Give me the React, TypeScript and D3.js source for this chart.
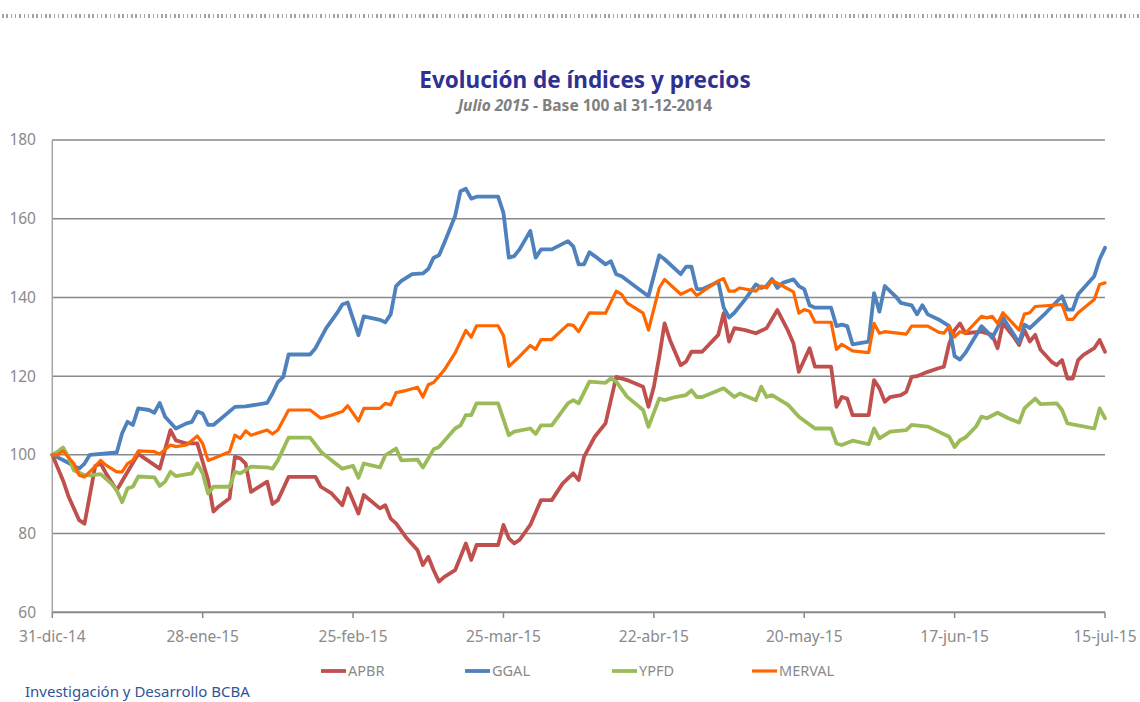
import React from "react";
import * as d3 from "d3";

type Pt = [string, number];

const seriesNames = ["APBR", "GGAL", "YPFD", "MERVAL"];
const seriesColors = ["#C0504D", "#4F81BD", "#9BBB59", "#FF6600"];

const APBR: Pt[] = [["2014-12-31",100],["2015-01-02",93.5],["2015-01-03",89.5],["2015-01-05",83.4],["2015-01-06",82.5],["2015-01-08",97.2],["2015-01-09",97.8],["2015-01-10",95.3],["2015-01-12",91.0],["2015-01-16",100.3],["2015-01-17",99.3],["2015-01-20",96.5],["2015-01-22",106.3],["2015-01-23",103.7],["2015-01-25",102.9],["2015-01-27",102.9],["2015-01-29",93.6],["2015-01-30",85.6],["2015-01-31",86.9],["2015-02-02",89.0],["2015-02-03",99.5],["2015-02-04",99.1],["2015-02-05",97.8],["2015-02-06",90.6],["2015-02-09",93.2],["2015-02-10",87.5],["2015-02-11",88.5],["2015-02-13",94.4],["2015-02-18",94.4],["2015-02-19",91.9],["2015-02-21",90.2],["2015-02-23",87.2],["2015-02-24",91.5],["2015-02-26",85.1],["2015-02-27",89.8],["2015-03-02",86.4],["2015-03-03",87.2],["2015-03-04",83.8],["2015-03-05",82.6],["2015-03-07",78.8],["2015-03-09",75.8],["2015-03-10",72.0],["2015-03-11",74.1],["2015-03-12",70.7],["2015-03-13",67.8],["2015-03-14",69.0],["2015-03-16",70.7],["2015-03-18",77.5],["2015-03-19",73.3],["2015-03-20",77.1],["2015-03-24",77.1],["2015-03-25",82.2],["2015-03-26",78.8],["2015-03-27",77.5],["2015-03-28",78.4],["2015-03-30",82.2],["2015-04-01",88.5],["2015-04-03",88.5],["2015-04-05",92.7],["2015-04-07",95.3],["2015-04-08",93.6],["2015-04-09",99.5],["2015-04-11",104.6],["2015-04-13",108.0],["2015-04-14",113.9],["2015-04-15",119.8],["2015-04-17",119.0],["2015-04-20",117.3],["2015-04-21",112.2],["2015-04-22",117.3],["2015-04-23",124.9],["2015-04-24",133.4],["2015-04-25",129.2],["2015-04-27",122.8],["2015-04-28",123.7],["2015-04-29",126.2],["2015-05-01",126.2],["2015-05-04",130.5],["2015-05-05",136.0],["2015-05-06",128.8],["2015-05-07",132.2],["2015-05-09",131.7],["2015-05-11",130.9],["2015-05-13",132.2],["2015-05-15",136.8],["2015-05-17",131.5],["2015-05-18",128.3],["2015-05-19",121.1],["2015-05-21",127.1],["2015-05-22",122.4],["2015-05-25",122.4],["2015-05-26",112.2],["2015-05-27",114.7],["2015-05-28",114.3],["2015-05-29",110.1],["2015-06-01",110.1],["2015-06-02",119.0],["2015-06-03",116.9],["2015-06-04",113.5],["2015-06-05",114.7],["2015-06-07",115.2],["2015-06-08",116.0],["2015-06-09",119.8],["2015-06-10",120.0],["2015-06-12",121.1],["2015-06-14",122.0],["2015-06-15",122.4],["2015-06-16",128.3],["2015-06-17",131.7],["2015-06-18",133.4],["2015-06-19",130.9],["2015-06-22",131.3],["2015-06-24",130.5],["2015-06-25",127.1],["2015-06-26",133.4],["2015-06-28",130.0],["2015-06-29",127.9],["2015-06-30",131.7],["2015-07-01",128.8],["2015-07-02",130.5],["2015-07-03",126.7],["2015-07-05",123.7],["2015-07-06",122.8],["2015-07-07",124.1],["2015-07-08",119.4],["2015-07-09",119.4],["2015-07-10",124.1],["2015-07-11",125.4],["2015-07-13",127.1],["2015-07-14",129.2],["2015-07-15",126.2]];

const GGAL: Pt[] = [["2014-12-31",100],["2015-01-02",98.7],["2015-01-05",96.5],["2015-01-06",97.8],["2015-01-07",100.0],["2015-01-12",100.6],["2015-01-13",105.5],["2015-01-14",108.4],["2015-01-15",107.6],["2015-01-16",111.8],["2015-01-18",111.4],["2015-01-19",110.7],["2015-01-20",113.2],["2015-01-21",109.7],["2015-01-23",106.7],["2015-01-25",108.0],["2015-01-26",108.4],["2015-01-27",111.0],["2015-01-28",110.5],["2015-01-29",107.6],["2015-01-30",107.6],["2015-02-03",112.2],["2015-02-05",112.3],["2015-02-09",113.2],["2015-02-10",115.6],["2015-02-11",118.5],["2015-02-12",119.8],["2015-02-13",125.5],["2015-02-17",125.5],["2015-02-18",127.1],["2015-02-20",132.2],["2015-02-22",136.0],["2015-02-23",138.2],["2015-02-24",138.7],["2015-02-26",130.4],["2015-02-27",135.2],["2015-03-02",134.3],["2015-03-03",133.7],["2015-03-04",135.7],["2015-03-05",142.9],["2015-03-06",144.2],["2015-03-08",145.9],["2015-03-10",146.1],["2015-03-11",147.2],["2015-03-12",150.1],["2015-03-13",150.7],["2015-03-14",153.9],["2015-03-16",160.7],["2015-03-17",167.0],["2015-03-18",167.6],["2015-03-19",165.1],["2015-03-20",165.6],["2015-03-24",165.6],["2015-03-25",161.5],["2015-03-26",150.1],["2015-03-27",150.5],["2015-03-28",152.2],["2015-03-30",156.9],["2015-03-31",150.1],["2015-04-01",152.2],["2015-04-03",152.2],["2015-04-06",154.3],["2015-04-07",153.0],["2015-04-08",148.4],["2015-04-09",148.4],["2015-04-10",151.5],["2015-04-11",150.5],["2015-04-13",148.4],["2015-04-14",149.2],["2015-04-15",145.9],["2015-04-16",145.4],["2015-04-21",140.3],["2015-04-23",150.7],["2015-04-24",149.7],["2015-04-27",145.9],["2015-04-28",147.8],["2015-04-29",147.8],["2015-04-30",142.1],["2015-05-01",142.1],["2015-05-04",144.0],["2015-05-05",137.4],["2015-05-06",134.9],["2015-05-07",136.1],["2015-05-09",139.5],["2015-05-11",143.3],["2015-05-12",142.4],["2015-05-13",142.9],["2015-05-14",144.7],["2015-05-15",142.4],["2015-05-16",143.7],["2015-05-18",144.6],["2015-05-19",142.9],["2015-05-20",142.1],["2015-05-21",138.0],["2015-05-22",137.4],["2015-05-25",137.4],["2015-05-26",132.7],["2015-05-27",133.1],["2015-05-28",132.7],["2015-05-29",128.1],["2015-06-01",128.8],["2015-06-02",141.1],["2015-06-03",136.4],["2015-06-04",142.9],["2015-06-06",140.3],["2015-06-07",138.6],["2015-06-09",138.0],["2015-06-10",135.7],["2015-06-11",138.0],["2015-06-12",135.7],["2015-06-14",134.4],["2015-06-16",132.7],["2015-06-17",125.1],["2015-06-18",124.2],["2015-06-19",125.9],["2015-06-22",132.7],["2015-06-23",131.4],["2015-06-24",129.7],["2015-06-26",134.9],["2015-06-29",128.5],["2015-06-30",133.1],["2015-07-01",132.2],["2015-07-04",136.1],["2015-07-07",140.3],["2015-07-08",136.9],["2015-07-09",136.9],["2015-07-10",140.8],["2015-07-13",145.4],["2015-07-14",149.7],["2015-07-15",152.6]];

const YPFD: Pt[] = [["2014-12-31",100],["2015-01-01",100.8],["2015-01-02",101.9],["2015-01-03",99.5],["2015-01-04",96.1],["2015-01-06",94.8],["2015-01-07",94.8],["2015-01-09",95.1],["2015-01-11",92.7],["2015-01-12",91.0],["2015-01-13",88.0],["2015-01-14",91.5],["2015-01-15",91.9],["2015-01-16",94.5],["2015-01-19",94.3],["2015-01-20",92.1],["2015-01-21",93.2],["2015-01-22",95.7],["2015-01-23",94.6],["2015-01-26",95.3],["2015-01-27",97.8],["2015-01-28",95.3],["2015-01-29",90.2],["2015-01-30",91.9],["2015-02-02",91.9],["2015-02-03",95.7],["2015-02-04",95.3],["2015-02-06",97.0],["2015-02-09",96.8],["2015-02-10",96.5],["2015-02-11",98.6],["2015-02-13",104.4],["2015-02-17",104.4],["2015-02-19",100.8],["2015-02-21",98.6],["2015-02-23",96.5],["2015-02-25",97.2],["2015-02-26",94.2],["2015-02-27",97.8],["2015-03-02",96.8],["2015-03-03",99.9],["2015-03-05",101.6],["2015-03-06",98.6],["2015-03-09",98.8],["2015-03-10",96.8],["2015-03-12",101.4],["2015-03-13",102.0],["2015-03-16",106.7],["2015-03-17",107.5],["2015-03-18",110.1],["2015-03-19",110.1],["2015-03-20",113.1],["2015-03-24",113.1],["2015-03-26",105.0],["2015-03-27",105.9],["2015-03-30",106.7],["2015-03-31",105.3],["2015-04-01",107.5],["2015-04-03",107.5],["2015-04-06",113.1],["2015-04-07",113.9],["2015-04-08",113.1],["2015-04-10",118.6],["2015-04-13",118.3],["2015-04-14",119.4],["2015-04-15",118.6],["2015-04-17",114.8],["2015-04-20",111.4],["2015-04-21",107.1],["2015-04-23",114.3],["2015-04-24",113.9],["2015-04-26",114.7],["2015-04-28",115.2],["2015-04-29",116.4],["2015-04-30",114.7],["2015-05-01",114.7],["2015-05-05",116.9],["2015-05-07",114.7],["2015-05-08",115.6],["2015-05-11",113.9],["2015-05-12",117.3],["2015-05-13",114.7],["2015-05-14",115.2],["2015-05-17",112.7],["2015-05-19",109.7],["2015-05-22",106.7],["2015-05-25",106.7],["2015-05-26",102.9],["2015-05-27",102.5],["2015-05-29",103.6],["2015-06-01",102.7],["2015-06-02",106.7],["2015-06-03",104.2],["2015-06-05",105.9],["2015-06-08",106.3],["2015-06-09",107.6],["2015-06-12",107.2],["2015-06-14",105.9],["2015-06-16",104.6],["2015-06-17",102.0],["2015-06-18",103.7],["2015-06-19",104.4],["2015-06-21",107.2],["2015-06-22",109.7],["2015-06-23",109.3],["2015-06-25",110.7],["2015-06-27",109.3],["2015-06-29",108.2],["2015-06-30",111.8],["2015-07-01",113.1],["2015-07-02",114.3],["2015-07-03",112.9],["2015-07-06",113.1],["2015-07-07",111.4],["2015-07-08",108.0],["2015-07-13",106.7],["2015-07-14",111.8],["2015-07-15",109.3]];

const MERVAL: Pt[] = [["2014-12-31",100],["2015-01-01",100.0],["2015-01-02",101.0],["2015-01-04",97.8],["2015-01-05",94.8],["2015-01-06",94.4],["2015-01-08",97.1],["2015-01-09",98.6],["2015-01-10",97.4],["2015-01-12",95.7],["2015-01-13",95.7],["2015-01-14",97.8],["2015-01-15",98.6],["2015-01-16",101.0],["2015-01-19",100.8],["2015-01-20",100.2],["2015-01-22",102.5],["2015-01-23",102.1],["2015-01-25",102.5],["2015-01-27",104.8],["2015-01-28",102.9],["2015-01-29",98.6],["2015-01-30",99.1],["2015-02-02",100.8],["2015-02-03",105.0],["2015-02-04",104.2],["2015-02-05",106.1],["2015-02-06",105.0],["2015-02-09",106.3],["2015-02-10",105.3],["2015-02-11",106.3],["2015-02-13",111.4],["2015-02-17",111.4],["2015-02-19",109.3],["2015-02-21",110.1],["2015-02-23",111.0],["2015-02-24",112.5],["2015-02-26",108.6],["2015-02-27",111.8],["2015-03-02",111.8],["2015-03-03",113.1],["2015-03-04",112.7],["2015-03-05",115.8],["2015-03-07",116.4],["2015-03-09",117.2],["2015-03-10",114.7],["2015-03-11",117.8],["2015-03-12",118.4],["2015-03-14",121.6],["2015-03-16",125.9],["2015-03-18",131.6],["2015-03-19",129.9],["2015-03-20",132.8],["2015-03-24",132.8],["2015-03-25",130.3],["2015-03-26",122.5],["2015-03-28",125.0],["2015-03-30",127.8],["2015-03-31",126.8],["2015-04-01",129.3],["2015-04-03",129.3],["2015-04-06",133.1],["2015-04-07",132.9],["2015-04-08",131.3],["2015-04-10",136.1],["2015-04-13",136.0],["2015-04-15",141.6],["2015-04-16",140.8],["2015-04-17",138.6],["2015-04-20",136.0],["2015-04-21",131.7],["2015-04-23",142.4],["2015-04-24",144.6],["2015-04-27",140.8],["2015-04-29",142.1],["2015-04-30",140.5],["2015-05-04",144.2],["2015-05-05",144.8],["2015-05-06",141.6],["2015-05-07",141.6],["2015-05-08",142.4],["2015-05-11",141.6],["2015-05-12",142.9],["2015-05-13",142.4],["2015-05-14",144.3],["2015-05-16",142.9],["2015-05-18",141.4],["2015-05-19",136.0],["2015-05-20",136.9],["2015-05-21",136.5],["2015-05-22",133.7],["2015-05-25",133.7],["2015-05-26",126.8],["2015-05-27",128.1],["2015-05-29",126.4],["2015-06-01",126.0],["2015-06-02",133.4],["2015-06-03",130.9],["2015-06-04",131.3],["2015-06-08",130.7],["2015-06-09",132.7],["2015-06-12",132.7],["2015-06-14",131.2],["2015-06-15",130.9],["2015-06-16",132.7],["2015-06-17",130.0],["2015-06-18",131.3],["2015-06-19",130.9],["2015-06-22",135.2],["2015-06-23",134.8],["2015-06-24",135.2],["2015-06-25",133.4],["2015-06-26",136.1],["2015-06-29",131.7],["2015-06-30",135.8],["2015-07-01",136.1],["2015-07-02",137.7],["2015-07-07",138.2],["2015-07-08",134.4],["2015-07-09",134.4],["2015-07-10",136.1],["2015-07-13",139.5],["2015-07-14",143.3],["2015-07-15",143.7]];

const xTickDates = ["2014-12-31", "2015-01-28", "2015-02-25", "2015-03-25", "2015-04-22", "2015-05-20", "2015-06-17", "2015-07-15"];
const xTickLabels = ["31-dic-14", "28-ene-15", "25-feb-15", "25-mar-15", "22-abr-15", "20-may-15", "17-jun-15", "15-jul-15"];
const yTicks = [60, 80, 100, 120, 140, 160, 180];

const titleText = "Evolución de índices y precios";
const subtitleItalic = "Julio 2015";
const subtitleRest = " - Base 100 al 31-12-2014";
const footerText = "Investigación y Desarrollo BCBA";

const W = 1140;
const H = 702;
const FONT = "'Noto Sans', 'Open Sans', sans-serif";

export default function App() {
  const parse = d3.timeParse("%Y-%m-%d");
  const x = d3
    .scaleTime()
    .domain([parse("2014-12-31") as Date, parse("2015-07-15") as Date])
    .range([52.3, 1105]);
  const y = d3.scaleLinear().domain([60, 180]).range([612.3, 140]);

  const allSeries = [APBR, GGAL, YPFD, MERVAL];
  const line = d3
    .line<Pt>()
    .x((d) => x(parse(d[0]) as Date))
    .y((d) => y(d[1]));

  const legendX = [321, 465, 612, 752];

  return (
    <svg
      width={W}
      height={H}
      style={{ position: "absolute", left: 0, top: 0, background: "#fff" }}
      fontFamily={FONT}
    >
      <rect x={0} y={0} width={W} height={H} fill="#fff" />
      <path
        d={`M2,16H${W}`}
        fill="none"
        stroke="#a3a3a3"
        strokeWidth={4}
        strokeDasharray="1.5 2.8"
        shapeRendering="crispEdges"
      />

      <text x={585} y={88} textAnchor="middle" fontSize={22.5} fontWeight={700} fill="#2E3192">
        {titleText}
      </text>
      <text x={585} y={111} textAnchor="middle" fontSize={15.5} fontWeight={700} fill="#808080">
        <tspan fontStyle="italic">{subtitleItalic}</tspan>
        <tspan>{subtitleRest}</tspan>
      </text>

      {yTicks.map((t) => (
        <g key={t}>
          <line
            x1={52}
            x2={1105}
            y1={y(t)}
            y2={y(t)}
            stroke="#898989"
            strokeWidth={t === 60 ? 2 : 1.5}
          />
          <text
            x={36}
            y={y(t)}
            dy="0.35em"
            textAnchor="end"
            fontSize={15.5}
            fill="#8a8a8a"
          >
            {t}
          </text>
        </g>
      ))}
      <line x1={52.3} x2={52.3} y1={140} y2={612.3} stroke="#a6a6a6" strokeWidth={1.5} />

      {xTickDates.map((d, i) => {
        const px = x(parse(d) as Date);
        return (
          <g key={d}>
            <line x1={px} x2={px} y1={612.3} y2={618} stroke="#898989" strokeWidth={1.5} />
            <text x={px} y={642} textAnchor="middle" fontSize={15.5} fill="#8a8a8a">
              {xTickLabels[i]}
            </text>
          </g>
        );
      })}

      {allSeries.map((s, i) => (
        <path
          key={seriesNames[i]}
          d={line(s) || ""}
          fill="none"
          stroke={seriesColors[i]}
          strokeWidth={i === 3 ? 3.2 : 3.8}
          strokeLinejoin="round"
          strokeLinecap="round"
        />
      ))}

      {seriesNames.map((n, i) => (
        <g key={n}>
          <line
            x1={legendX[i]}
            x2={legendX[i] + 25}
            y1={671}
            y2={671}
            stroke={seriesColors[i]}
            strokeWidth={i === 3 ? 3.2 : 3.8}
          />
          <text x={legendX[i] + 27} y={676} fontSize={14.5} fill="#8a8a8a">
            {n}
          </text>
        </g>
      ))}

      <text x={25} y={697} fontSize={15} fill="#2F5597">
        {footerText}
      </text>
    </svg>
  );
}
